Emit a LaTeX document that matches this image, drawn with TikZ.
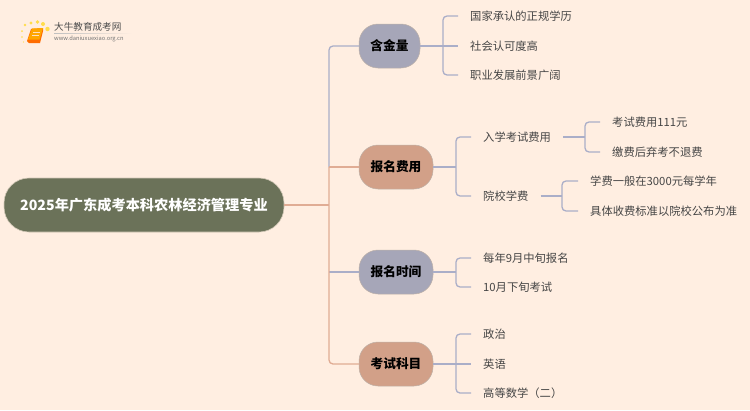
\documentclass[tikz,border=0pt]{standalone}
\usepackage{fontspec}
\setmainfont{Noto Sans CJK SC}
\usetikzlibrary{shadings}
\definecolor{bgc}{HTML}{FFEEE1}
\definecolor{mainc}{HTML}{6B7259}
\definecolor{lavc}{HTML}{A6A6B8}
\definecolor{salc}{HTML}{D2A088}
\definecolor{lavl}{HTML}{AAAEC8}
\definecolor{sall}{HTML}{E0AC94}
\definecolor{txtc}{HTML}{454545}
\tikzset{
  x=1pt,y=-1pt,
  hubbox/.style={rounded corners=25pt,fill=mainc,draw=bgc!70!mainc,line width=.6pt,minimum width=280pt,minimum height=54pt,inner sep=0pt,text=white,font=\fontsize{14.2}{18}\selectfont\bfseries},
  branchbox/.style={rounded corners=19pt,draw=bgc!75!black,line width=.5pt,minimum height=44pt,inner sep=0pt,text=black,font=\fontsize{12.7}{16}\selectfont\bfseries},
  lavbox/.style={branchbox,fill=lavc},
  salbox/.style={branchbox,fill=salc},
  leafbox/.style={anchor=west,inner xsep=12pt,inner ysep=2pt,text=txtc,font=\fontsize{11.3}{14}\selectfont},
  lavline/.style={draw=lavl,line width=1.3pt,rounded corners=4pt},
  salline/.style={draw=sall,line width=1.3pt,rounded corners=4pt},
}
\begin{document}
\begin{tikzpicture}
\useasboundingbox[fill=bgc] (0,0) rectangle (750,410);
% logo
\begin{scope}
\foreach \a/\b/\r in {23.5/42/.7,22/37/.8,22/31/1,25/25/1.3,31/23/1.7,37.5/22/1.9,43/24/2,47.5/29/2.2}
  \fill[orange!35!yellow!85!white,opacity=.8] (\a,\b) circle (\r);
\fill[orange!85!red] (27,41) -- (31,29) -- (43,28) -- (43,31) -- (40,43) -- (29,43) -- cycle;
\fill[orange!70!yellow] (28,39.5) -- (32,28.5) -- (43,28) -- (39.5,39.5) -- cycle;
\draw[white!75!orange,line width=.7pt] (33,32) -- (40,32) (32,35) -- (39,35);
\end{scope}
\node[anchor=west,inner sep=0pt,text=black!70,font=\fontsize{9.6}{11}\selectfont] (logot) at (54,27) {大牛教育成考网};
\node[anchor=west,inner sep=0pt,text=black!55,font=\fontsize{5.75}{7}\selectfont] (logou) at (54,38.8) {www.daniuxuexiao.org.cn};
\shade[left color=black!25,right color=bgc] (54,33) rectangle (132,33.7);
% hub and branches
\node[hubbox] (hub) at (144,205) {2025年广东成考本科农林经济管理专业};
\node[lavbox,minimum width=61pt] (b1) at (389.5,46) {含金量};
\node[salbox,minimum width=74pt] (b2) at (396,167) {报名费用};
\node[lavbox,minimum width=74pt] (b3) at (396,272) {报名时间};
\node[salbox,minimum width=74pt] (b4) at (396,364) {考试科目};
% leaves
\node[leafbox] (a1) at (458,16) {国家承认的正规学历};
\node[leafbox] (a2) at (458,46) {社会认可度高};
\node[leafbox] (a3) at (458,75) {职业发展前景广阔};
\node[leafbox] (c1) at (471,137) {入学考试费用};
\node[leafbox] (c2) at (471,196) {院校学费};
\node[leafbox] (d1) at (600,122) {考试费用111元};
\node[leafbox] (d2) at (600,152) {缴费后弃考不退费};
\node[leafbox] (e1) at (578,181) {学费一般在3000元每学年};
\node[leafbox] (e2) at (578,211) {具体收费标准以院校公布为准};
\node[leafbox] (f1) at (471,258) {每年9月中旬报名};
\node[leafbox] (f2) at (471,287) {10月下旬考试};
\node[leafbox] (g1) at (471,334) {政治};
\node[leafbox] (g2) at (471,364) {英语};
\node[leafbox] (g3) at (471,393) {高等数学（二）};
% junctions
\coordinate (tt) at (329,167);
\coordinate (th) at (329,205);
\coordinate (t3) at (329,272);
\coordinate (ja) at (443,46);
\coordinate (jc) at (456,167);
\coordinate (jf) at (456,272);
\coordinate (jg) at (456,364);
\coordinate (jd) at (585,137);
\coordinate (je) at (562,196);
% trunk
\draw[lavline] (b1.west) -| (tt);
\draw[lavline] (b3.west) -- (t3);
\draw[salline] (tt) |- (b4.west);
\draw[salline] (b2.west) -- (tt);
\draw[salline] (hub.east) -- (th);
% brackets
\draw[lavline] (b1.east) -- (a2.west);
\draw[lavline] (a1.west) -| (ja) |- (a3.west);
\draw[lavline] (b2.east) -- (jc);
\draw[lavline] (c1.west) -| (jc) |- (c2.west);
\draw[lavline] (c1.east) -- (jd);
\draw[lavline] (d1.west) -| (jd) |- (d2.west);
\draw[lavline] (c2.east) -- (je);
\draw[lavline] (e1.west) -| (je) |- (e2.west);
\draw[lavline] (b3.east) -- (jf);
\draw[lavline] (f1.west) -| (jf) |- (f2.west);
\draw[lavline] (b4.east) -- (g2.west);
\draw[lavline] (g1.west) -| (jg) |- (g3.west);
\end{tikzpicture}
\end{document}
